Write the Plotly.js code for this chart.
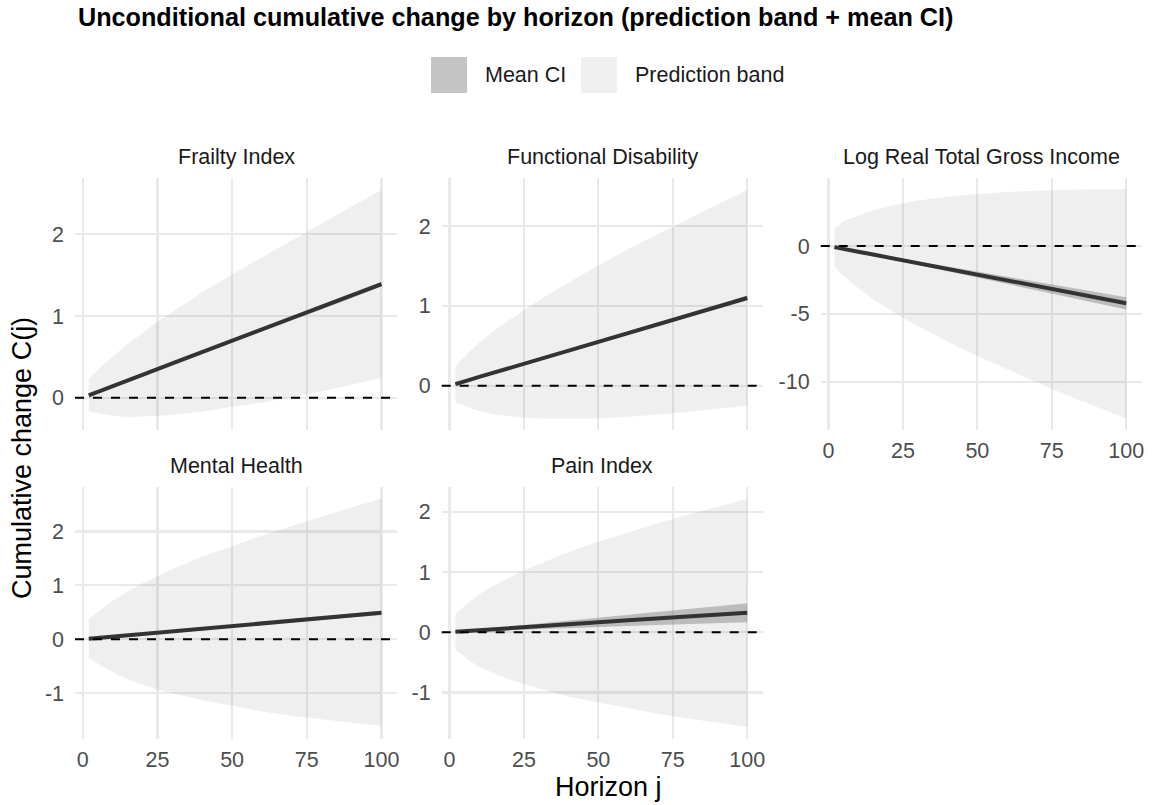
<!DOCTYPE html>
<html>
<head>
<meta charset="utf-8">
<script src="https://cdn.plot.ly/plotly-3.0.1.min.js"></script>
<style>html,body{margin:0;padding:0;background:#fff;}#chart{width:1153px;height:805px;}</style>
</head>
<body>
<div id="chart"></div>
<script>
// ---------------- data ----------------
const horizon = [2, 3, 5, 7, 10, 15, 20, 25, 30, 40, 50, 60, 70, 80, 90, 100];
const xTicks = [0, 25, 50, 75, 100];
const facetNames = ["Frailty Index", "Functional Disability", "Log Real Total Gross Income", "Mental Health", "Pain Index"];

const frailtyMean = [0.03, 0.04, 0.07, 0.10, 0.14, 0.21, 0.28, 0.35, 0.42, 0.56, 0.70, 0.83, 0.97, 1.11, 1.25, 1.39];
const frailtyCiLo = [0.02, 0.03, 0.06, 0.09, 0.13, 0.20, 0.27, 0.34, 0.40, 0.54, 0.68, 0.81, 0.95, 1.08, 1.22, 1.36];
const frailtyCiHi = [0.04, 0.05, 0.08, 0.11, 0.15, 0.22, 0.29, 0.36, 0.44, 0.58, 0.72, 0.85, 0.99, 1.14, 1.28, 1.42];
const frailtyPbLo = [-0.17, -0.18, -0.19, -0.20, -0.22, -0.24, -0.23, -0.22, -0.21, -0.17, -0.11, -0.06, 0.01, 0.08, 0.16, 0.24];
const frailtyPbHi = [0.22, 0.27, 0.34, 0.41, 0.50, 0.66, 0.79, 0.93, 1.05, 1.29, 1.51, 1.72, 1.93, 2.14, 2.34, 2.54];

const disabMean = [0.02, 0.033, 0.055, 0.077, 0.11, 0.165, 0.22, 0.275, 0.33, 0.44, 0.55, 0.66, 0.77, 0.88, 0.99, 1.10];
const disabCiLo = [0.01, 0.023, 0.045, 0.067, 0.10, 0.155, 0.21, 0.26, 0.315, 0.425, 0.53, 0.64, 0.75, 0.86, 0.965, 1.07];
const disabCiHi = [0.03, 0.043, 0.065, 0.087, 0.12, 0.175, 0.23, 0.29, 0.345, 0.455, 0.57, 0.68, 0.79, 0.90, 1.015, 1.13];
const disabPbLo = [-0.20, -0.22, -0.25, -0.28, -0.32, -0.36, -0.38, -0.40, -0.41, -0.41, -0.41, -0.39, -0.36, -0.33, -0.29, -0.25];
const disabPbHi = [0.24, 0.29, 0.36, 0.44, 0.54, 0.69, 0.82, 0.95, 1.07, 1.29, 1.51, 1.71, 1.90, 2.09, 2.27, 2.45];

const incomeMean = [-0.08, -0.13, -0.21, -0.30, -0.42, -0.63, -0.84, -1.06, -1.27, -1.69, -2.11, -2.53, -2.95, -3.38, -3.80, -4.22];
const incomeCiLo = [-0.09, -0.14, -0.23, -0.33, -0.46, -0.69, -0.92, -1.17, -1.40, -1.87, -2.33, -2.80, -3.27, -3.74, -4.20, -4.67];
const incomeCiHi = [-0.07, -0.12, -0.19, -0.27, -0.38, -0.57, -0.76, -0.95, -1.14, -1.51, -1.89, -2.26, -2.63, -3.02, -3.40, -3.77];
const incomePbLo = [-1.50, -1.75, -2.20, -2.60, -3.10, -3.91, -4.63, -5.29, -5.91, -7.05, -8.10, -9.11, -10.06, -10.98, -11.86, -12.72];
const incomePbHi = [1.30, 1.45, 1.80, 2.00, 2.24, 2.63, 2.93, 3.15, 3.35, 3.63, 3.84, 3.99, 4.08, 4.14, 4.18, 4.18];

const mentalMean = [0.01, 0.015, 0.025, 0.035, 0.05, 0.075, 0.10, 0.12, 0.15, 0.20, 0.245, 0.29, 0.34, 0.39, 0.44, 0.49];
const mentalCiLo = [0.009, 0.013, 0.023, 0.032, 0.046, 0.069, 0.092, 0.11, 0.138, 0.184, 0.225, 0.266, 0.312, 0.358, 0.404, 0.45];
const mentalCiHi = [0.011, 0.017, 0.027, 0.038, 0.054, 0.081, 0.108, 0.13, 0.162, 0.216, 0.265, 0.314, 0.368, 0.422, 0.476, 0.53];
const mentalPbLo = [-0.35, -0.38, -0.45, -0.52, -0.61, -0.74, -0.84, -0.93, -1.00, -1.13, -1.24, -1.34, -1.42, -1.49, -1.55, -1.61];
const mentalPbHi = [0.37, 0.41, 0.50, 0.59, 0.71, 0.89, 1.04, 1.17, 1.30, 1.53, 1.73, 1.92, 2.10, 2.28, 2.45, 2.61];

const painMean = [0.007, 0.01, 0.016, 0.023, 0.033, 0.05, 0.066, 0.08, 0.10, 0.13, 0.165, 0.20, 0.23, 0.26, 0.29, 0.325];
const painCiLo = [0.004, 0.005, 0.008, 0.012, 0.017, 0.026, 0.035, 0.041, 0.053, 0.067, 0.086, 0.106, 0.12, 0.134, 0.149, 0.168];
const painCiHi = [0.010, 0.015, 0.024, 0.034, 0.049, 0.074, 0.097, 0.119, 0.147, 0.193, 0.244, 0.294, 0.34, 0.386, 0.431, 0.482];
const painPbLo = [-0.29, -0.33, -0.40, -0.48, -0.57, -0.68, -0.78, -0.86, -0.93, -1.07, -1.17, -1.26, -1.35, -1.43, -1.50, -1.565];
const painPbHi = [0.31, 0.35, 0.44, 0.52, 0.63, 0.78, 0.91, 1.03, 1.13, 1.33, 1.50, 1.66, 1.81, 1.95, 2.08, 2.21];

const yTickSets = [[0, 1, 2], [0, 1, 2], [-10, -5, 0], [-1, 0, 1, 2], [-1, 0, 1, 2]];
const legendLabels = ["Mean CI", "Prediction band"];
const titleText = "Unconditional cumulative change by horizon (prediction band + mean CI)";
const xTitleText = "Horizon j";
const yTitleText = "Cumulative change C(j)";

// ---------------- layout helpers ----------------
const W = 1153, H = 805;
const px = v => v / W;
const py = v => 1 - v / H;

const panels = [
  {mean: frailtyMean, ciLo: frailtyCiLo, ciHi: frailtyCiHi, pbLo: frailtyPbLo, pbHi: frailtyPbHi, col: 0, row: 0, yr: [-0.395, 2.695], xlab: false},
  {mean: disabMean, ciLo: disabCiLo, ciHi: disabCiHi, pbLo: disabPbLo, pbHi: disabPbHi, col: 1, row: 0, yr: [-0.555, 2.61], xlab: false},
  {mean: incomeMean, ciLo: incomeCiLo, ciHi: incomeCiHi, pbLo: incomePbLo, pbHi: incomePbHi, col: 2, row: 0, yr: [-13.56, 5.05], xlab: true},
  {mean: mentalMean, ciLo: mentalCiLo, ciHi: mentalCiHi, pbLo: mentalPbLo, pbHi: mentalPbHi, col: 0, row: 1, yr: [-1.85, 2.83], xlab: true},
  {mean: painMean, ciLo: painCiLo, ciHi: painCiHi, pbLo: painPbLo, pbHi: painPbHi, col: 1, row: 1, yr: [-1.77, 2.415], xlab: true}
];
const colPx = [[75, 397], [441.7, 762.7], [820.7, 1141.7]];
const rowPx = [[177.5, 430], [486.7, 739]];

const FONT = "'Liberation Sans', Arial, sans-serif";
const bandColor = "rgba(127,127,127,0.12)";
const ciColor = "rgba(127,127,127,0.45)";

const traces = [];
const layout = {
  width: W, height: H,
  margin: {l: 0, r: 0, t: 0, b: 0},
  paper_bgcolor: "#ffffff", plot_bgcolor: "rgba(0,0,0,0)",
  showlegend: false,
  font: {family: FONT, color: "#1a1a1a"},
  shapes: [], annotations: []
};

panels.forEach((p, i) => {
  const k = i === 0 ? "" : String(i + 1);
  const xa = "x" + k, ya = "y" + k;
  const revJ = horizon.slice().reverse();
  traces.push({
    type: "scatter", mode: "lines", xaxis: xa, yaxis: ya,
    x: horizon.concat(revJ), y: p.pbHi.concat(p.pbLo.slice().reverse()),
    fill: "toself", fillcolor: bandColor, line: {width: 0}, hoverinfo: "skip", name: legendLabels[1]
  });
  traces.push({
    type: "scatter", mode: "lines", xaxis: xa, yaxis: ya,
    x: horizon.concat(revJ), y: p.ciHi.concat(p.ciLo.slice().reverse()),
    fill: "toself", fillcolor: ciColor, line: {width: 0}, hoverinfo: "skip", name: legendLabels[0]
  });
  traces.push({
    type: "scatter", mode: "lines", xaxis: xa, yaxis: ya,
    x: horizon, y: p.mean, line: {color: "#333333", width: 4}, name: facetNames[i]
  });
  const cx = colPx[p.col], ry = rowPx[p.row];
  layout["xaxis" + k] = {
    domain: [px(cx[0]), px(cx[1])], anchor: ya, range: [-2.6, 105.2],
    tickvals: xTicks, ticktext: xTicks.map(String), showticklabels: p.xlab,
    ticks: "", showline: false, zeroline: false,
    showgrid: true, gridcolor: "#e9e9e9", gridwidth: 2.2,
    tickfont: {family: FONT, size: 21.5, color: "#4d4d4d"}, ticklabelstandoff: 5
  };
  layout["yaxis" + k] = {
    domain: [py(ry[1]), py(ry[0])], anchor: xa, range: p.yr,
    tickvals: yTickSets[i], ticktext: yTickSets[i].map(String),
    ticks: "", showline: false, zeroline: false,
    showgrid: true, gridcolor: "#e9e9e9", gridwidth: 2.2,
    tickfont: {family: FONT, size: 21.5, color: "#4d4d4d"}, ticklabelstandoff: 10
  };
  layout.shapes.push({
    type: "line", xref: xa + " domain", yref: ya, x0: 0, x1: 1, y0: 0, y1: 0,
    line: {color: "#000000", width: 2, dash: "9px,9px"}, layer: "above"
  });
  layout.annotations.push({
    xref: "paper", yref: "paper", x: px((cx[0] + cx[1]) / 2), y: py(ry[0] - 20.5),
    xanchor: "center", yanchor: "middle", showarrow: false, text: facetNames[i],
    font: {family: FONT, size: 21.5, color: "#1a1a1a"}
  });
});

// title
layout.annotations.push({
  xref: "paper", yref: "paper", x: px(76), y: py(17), xanchor: "left", yanchor: "middle",
  showarrow: false, text: "<b>" + titleText + "</b>", font: {family: FONT, size: 25.2, color: "#000000"}
});
// axis titles
layout.annotations.push({
  xref: "paper", yref: "paper", x: px(608.5), y: py(787), xanchor: "center", yanchor: "middle",
  showarrow: false, text: xTitleText, font: {family: FONT, size: 27, color: "#000000"}
});
layout.annotations.push({
  xref: "paper", yref: "paper", x: px(22), y: py(458), xanchor: "center", yanchor: "middle",
  textangle: -90, showarrow: false, text: yTitleText, font: {family: FONT, size: 27, color: "#000000"}
});
// legend (keys + labels)
const keyX = [431, 581];
const keyFill = ["#c4c4c4", "#f0f0f0"];
const labelX = [483, 633];
legendLabels.forEach((lab, i) => {
  layout.shapes.push({
    type: "rect", xref: "paper", yref: "paper", x0: px(keyX[i]), x1: px(keyX[i] + 36),
    y0: py(93), y1: py(57), fillcolor: keyFill[i], line: {width: 0}, layer: "above"
  });
  layout.annotations.push({
    xref: "paper", yref: "paper", x: px(labelX[i]), y: py(75), xanchor: "left", yanchor: "middle",
    showarrow: false, text: lab, font: {family: FONT, size: 21.5, color: "#1a1a1a"}
  });
});

Plotly.newPlot("chart", traces, layout, {staticPlot: true, displayModeBar: false});
</script>
</body>
</html>
